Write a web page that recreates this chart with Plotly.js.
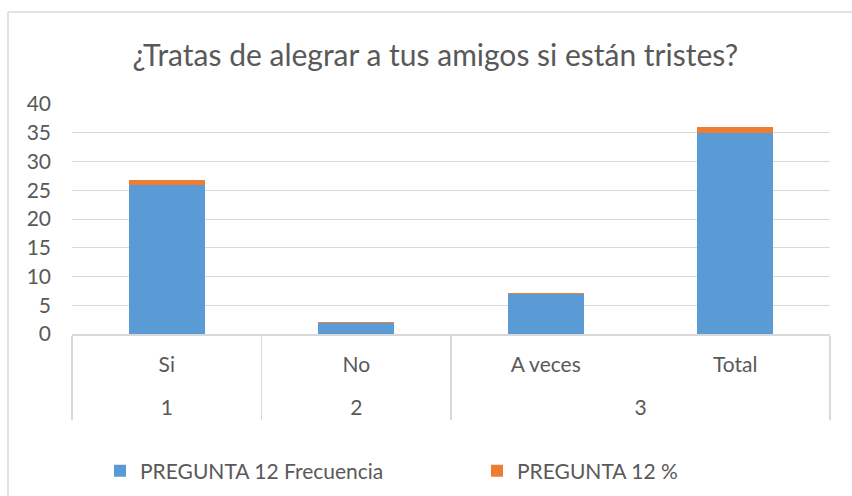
<!DOCTYPE html>
<html>
<head>
<meta charset="utf-8">
<script src="https://cdn.plot.ly/plotly-3.0.1.min.js"></script>
<style>
  html, body { margin: 0; padding: 0; background: #fff; }
  #chart { width: 852px; height: 496px; }
</style>
</head>
<body>
<div id="chart"></div>
<script>
const groups = ["1", "2", "3", "3"];
const categories = ["Si", "No", "A veces", "Total"];
const frecuencia = [26, 2, 7, 35];
const porcentaje = [0.74, 0.06, 0.2, 1];
const seriesNames = ["PREGUNTA 12 Frecuencia", "PREGUNTA 12 %"];
const yTicks = [0, 5, 10, 15, 20, 25, 30, 35, 40];

const font = "Lato, 'Open Sans', sans-serif";
const textColor = "#595959";
const gridColor = "#d9d9d9";

// inner labels get an empty second line so the outer level sits lower, as in the reference
const innerLabels = categories.map(c => c + "<br>\u00a0");

const traces = [
  {
    type: "bar",
    name: seriesNames[0],
    x: [groups, innerLabels],
    y: frecuencia,
    marker: { color: "#5b9bd5" },
    legend: "legend"
  },
  {
    type: "bar",
    name: seriesNames[1],
    x: [groups, innerLabels],
    y: porcentaje,
    marker: { color: "#ed7d31" },
    legend: "legend2"
  }
];

const legendCommon = {
  orientation: "h",
  xanchor: "left",
  yanchor: "middle",
  y: (334 - 471) / 230,
  font: { family: font, size: 21, color: textColor },
  bgcolor: "rgba(0,0,0,0)"
};

const layout = {
  width: 852,
  height: 496,
  margin: { l: 72, r: 22, t: 104, b: 162, autoexpand: false },
  paper_bgcolor: "#fff",
  plot_bgcolor: "#fff",
  barmode: "stack",
  bargap: 0.6,
  font: { family: font, color: textColor, size: 21 },
  title: {
    text: "¿Tratas de alegrar a tus amigos si están tristes?",
    font: { family: font, size: 30, color: textColor },
    xref: "container", x: 0.511, xanchor: "center",
    yref: "container", y: 1 - 55 / 496, yanchor: "middle"
  },
  xaxis: {
    type: "multicategory",
    automargin: false,
    showline: true,
    linecolor: gridColor,
    linewidth: 1.5,
    showdividers: true,
    dividercolor: gridColor,
    dividerwidth: 1.5,
    tickfont: { family: font, size: 21, color: textColor },
    ticklabelstandoff: 11,
    showgrid: false,
    zeroline: false
  },
  yaxis: {
    automargin: false,
    range: [0, 40],
    tickvals: yTicks,
    ticktext: yTicks.map(String),
    showgrid: true,
    gridcolor: gridColor,
    gridwidth: 1,
    zeroline: false,
    showline: false,
    ticklabelstandoff: 20,
    tickfont: { family: font, size: 21, color: textColor }
  },
  showlegend: true,
  legend: Object.assign({}, legendCommon, { x: (100 - 72) / 758 }),
  legend2: Object.assign({}, legendCommon, { x: (477 - 72) / 758 }),
  shapes: [
    { type: "line", xref: "paper", yref: "paper",
      x0: (8 - 72) / 758, x1: (8 - 72) / 758, y0: (334 - 12) / 230, y1: (334 - 500) / 230,
      line: { color: gridColor, width: 1.5 } },
    { type: "line", xref: "paper", yref: "paper",
      x0: (8 - 72) / 758, x1: (860 - 72) / 758, y0: (334 - 12) / 230, y1: (334 - 12) / 230,
      line: { color: gridColor, width: 1.5 } }
  ]
};

Plotly.newPlot("chart", traces, layout, { displayModeBar: false, staticPlot: true });
</script>
</body>
</html>
